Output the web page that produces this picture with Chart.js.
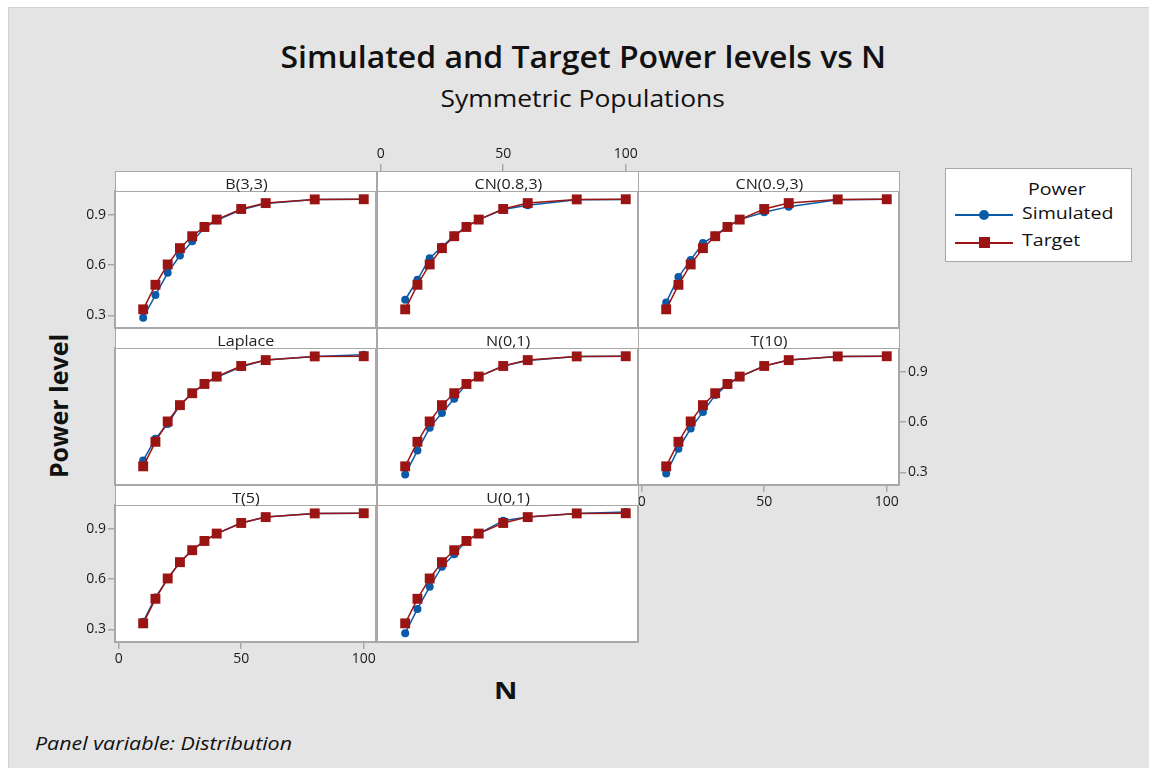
<!DOCTYPE html>
<html>
<head>
<meta charset="utf-8">
<script src="https://cdn.jsdelivr.net/npm/chart.js@4"></script>
<style>
  body { margin: 0; background: #fff; font-family: "Open Sans", sans-serif; }
  #frame { position: absolute; left: 8px; top: 7px; width: 1141px; height: 761px;
           background: #e4e4e4; border-left: 1px solid #d2d2d2; border-top: 1px solid #d2d2d2; }
  .txt { position: absolute; color: #111; white-space: nowrap; }
  .strip { position: absolute; background: #fff; border: 1px solid #a8a8a8; box-sizing: border-box;
           text-align: center; color: #222; z-index: 3; }
  .strip span { display: inline-block; font-size: 14px; line-height: 16px; transform: scaleX(1.15); }
  canvas.panel { position: absolute; z-index: 2; }
  #legend { position: absolute; left: 945px; top: 168px; width: 187px; height: 94px; background: #fff;
            border: 1.5px solid #a8a8a8; box-sizing: border-box; z-index: 3; }
  #legend .txt { font-size: 17px; transform-origin: left center; transform: scaleX(1.15); }
</style>
</head>
<body>
<div id="frame"></div>
<div class="txt" style="left:0;width:1166px;top:36px;text-align:center;">
  <span style="display:inline-block;font-size:30px;font-weight:600;transform:scaleX(1.065);">Simulated and Target Power levels vs N</span></div>
<div class="txt" style="left:0;width:1166px;top:82px;text-align:center;">
  <span style="display:inline-block;font-size:23px;transform:scaleX(1.15);">Symmetric Populations</span></div>
<div class="txt" style="left:58px;top:406px;font-size:25px;font-weight:700;transform:translate(-50%,-50%) rotate(-90deg);">Power level</div>
<div class="txt" style="left:496px;top:673px;font-size:24px;font-weight:700;transform:scaleX(1.2);">N</div>
<div class="txt" style="left:35px;top:731px;font-size:18px;font-style:italic;transform-origin:left center;transform:scaleX(1.19);">Panel variable: Distribution</div>
<div id="legend">
  <div class="txt" style="left:82px;top:8px;">Power</div>
  <div class="txt" style="left:76px;top:32px;">Simulated</div>
  <div class="txt" style="left:76px;top:59px;">Target</div>
  <div style="position:absolute;left:9px;top:45px;width:58px;height:2px;background:#0b5aa8;"></div>
  <div style="position:absolute;left:33px;top:41px;width:10px;height:10px;border-radius:5px;background:#0b5aa8;"></div>
  <div style="position:absolute;left:9px;top:73px;width:58px;height:2px;background:#9b1414;"></div>
  <div style="position:absolute;left:33px;top:68px;width:11px;height:11px;background:#9b1414;"></div>
</div>
<script>
// sample sizes (x) and the power curves
const nValues = [10, 15, 20, 25, 30, 35, 40, 50, 60, 80, 100];
const targetPower = [0.336, 0.482, 0.603, 0.700, 0.771, 0.826, 0.870, 0.933, 0.968, 0.990, 0.991];

const simB33 = [0.286, 0.421, 0.553, 0.656, 0.741, 0.820, 0.866, 0.928, 0.966, 0.989, 0.991];
const simCN083 = [0.393, 0.512, 0.640, 0.708, 0.775, 0.828, 0.870, 0.930, 0.955, 0.988, 0.990];
const simCN093 = [0.377, 0.528, 0.630, 0.730, 0.775, 0.828, 0.870, 0.913, 0.947, 0.988, 0.991];
const simLaplace = [0.371, 0.500, 0.588, 0.700, 0.771, 0.826, 0.866, 0.928, 0.968, 0.990, 1.000];
const simN01 = [0.287, 0.430, 0.566, 0.654, 0.738, 0.826, 0.870, 0.933, 0.965, 0.990, 0.991];
const simT10 = [0.294, 0.441, 0.561, 0.660, 0.760, 0.820, 0.868, 0.933, 0.968, 0.990, 0.991];
const simT5 = [0.345, 0.490, 0.600, 0.700, 0.771, 0.826, 0.870, 0.933, 0.968, 0.990, 0.991];
const simU01 = [0.277, 0.422, 0.553, 0.673, 0.747, 0.826, 0.870, 0.947, 0.968, 0.990, 0.998];

const panelNames = ["B(3,3)", "CN(0.8,3)", "CN(0.9,3)", "Laplace", "N(0,1)", "T(10)", "T(5)", "U(0,1)"];
const panelSims = [simB33, simCN083, simCN093, simLaplace, simN01, simT10, simT5, simU01];

const xTicks = [0, 50, 100];
const yTicks = [0.3, 0.6, 0.9];

// which side of which panel carries tick labels (Minitab alternating style)
const showAxes = [
  {left: true}, {top: true}, {},
  {}, {}, {right: true, bottom: true},
  {left: true, bottom: true}, {}
];

const colLeft = [115, 377, 638];
const rowTop = [171, 328, 485];
const panelW = 261, stripH = 20, plotH = 137, M = 54;
const frameColor = "#a8a8a8";

const whiteArea = {
  id: "whiteArea",
  beforeDraw(chart) {
    const a = chart.chartArea, c = chart.ctx;
    c.save();
    c.fillStyle = "#fff";
    c.fillRect(a.left, a.top, a.right - a.left, a.bottom - a.top);
    c.restore();
  }
};

function axis(pos, show, isX, topShift) {
  return {
    type: "linear",
    position: pos,
    min: isX ? -1.5 : 0.225,
    max: isX ? 105 : 1.04,
    afterBuildTicks: s => { s.ticks = (isX ? xTicks : yTicks).map(v => ({value: v})); },
    afterFit: s => { if (isX) s.height = M; else s.width = M; },
    border: {display: true, color: frameColor, width: 2},
    grid: {display: !!show, drawOnChartArea: false, drawTicks: true,
           tickLength: topShift ? 7 + stripH : 7, color: frameColor, lineWidth: 1.5},
    ticks: {display: !!show, padding: 2, color: "#1a1a1a", autoSkip: false, maxRotation: 0,
            font: {family: "Open Sans", size: 14},
            callback: v => isX ? String(v) : v.toFixed(1)}
  };
}

panelNames.forEach((name, i) => {
  const col = i % 3, row = Math.floor(i / 3);
  const L = colLeft[col], T = rowTop[row] + stripH;
  const strip = document.createElement("div");
  strip.className = "strip";
  strip.style.left = L + "px";
  strip.style.top = rowTop[row] + "px";
  strip.style.width = (panelW + 1) + "px";
  strip.style.height = (stripH + 1) + "px";
  const lab = document.createElement("span");
  lab.textContent = name;
  strip.appendChild(lab);
  document.body.appendChild(strip);

  const cv = document.createElement("canvas");
  cv.className = "panel";
  cv.width = panelW + 2 * M;
  cv.height = plotH + 2 * M;
  cv.style.left = (L - M) + "px";
  cv.style.top = (T - M) + "px";
  document.body.appendChild(cv);

  const sh = showAxes[i];
  new Chart(cv, {
    type: "line",
    data: {
      datasets: [
        {label: "Simulated", order: 1, data: nValues.map((n, k) => ({x: n, y: panelSims[i][k]})),
         borderColor: "#0b5aa8", backgroundColor: "#0b5aa8", borderWidth: 1.5,
         pointStyle: "circle", pointRadius: 4, pointBorderWidth: 0, xAxisID: "x", yAxisID: "y"},
        {label: "Target", order: 0, data: nValues.map((n, k) => ({x: n, y: targetPower[k]})),
         borderColor: "#9b1414", backgroundColor: "#9b1414", borderWidth: 1.5,
         pointStyle: "rect", pointRadius: 7, pointBorderWidth: 0, xAxisID: "x", yAxisID: "y"}
      ]
    },
    options: {
      responsive: false, animation: false, devicePixelRatio: 1,
      layout: {padding: 0},
      plugins: {legend: {display: false}, tooltip: {enabled: false}, title: {display: false}},
      scales: {
        x: axis("bottom", sh.bottom, true, false),
        x2: axis("top", sh.top, true, true),
        y: axis("left", sh.left, false, false),
        y2: axis("right", sh.right, false, false)
      }
    },
    plugins: [whiteArea]
  });
});
</script>
</body>
</html>
